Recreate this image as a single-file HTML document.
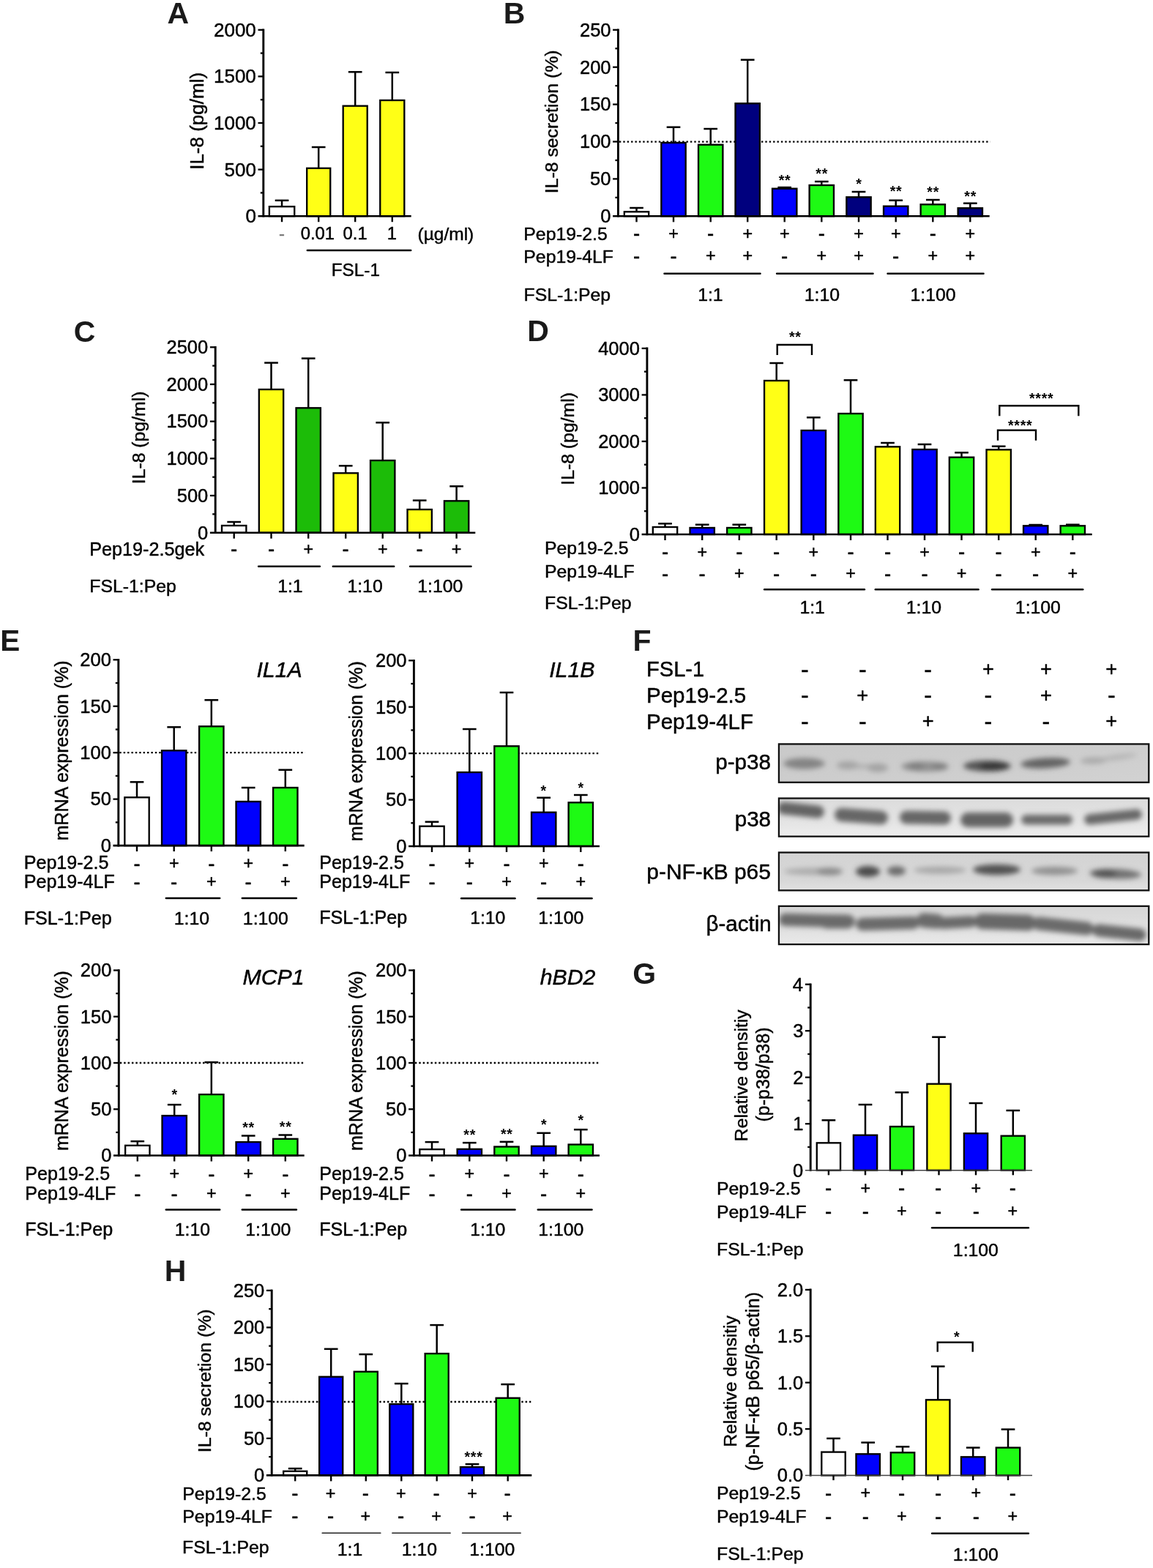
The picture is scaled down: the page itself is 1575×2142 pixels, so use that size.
<!DOCTYPE html>
<html><head><meta charset="utf-8"><title>Figure</title>
<style>html,body{margin:0;padding:0;background:#fff}svg{display:block}text{font-family:"Liberation Sans",sans-serif;stroke:#000;stroke-width:0.45px;stroke-linejoin:round}</style>
</head><body>
<svg width="1575" height="2142" viewBox="0 0 1575 2142">
<rect width="1575" height="2142" fill="#fff"/>
<text x="228.47" y="32.09" font-size="41" font-weight="bold" fill="#1a1a1a" style="stroke:none">A</text>
<line x1="385.05" y1="273.8" x2="385.05" y2="282.2" stroke="#000" stroke-width="2.5" />
<line x1="375.7" y1="273.8" x2="394.4" y2="273.8" stroke="#000" stroke-width="2.5" />
<line x1="435.2" y1="201" x2="435.2" y2="229.8" stroke="#000" stroke-width="2.5" />
<line x1="425.85" y1="201" x2="444.55" y2="201" stroke="#000" stroke-width="2.5" />
<line x1="485.2" y1="98.3" x2="485.2" y2="144.7" stroke="#000" stroke-width="2.5" />
<line x1="475.85" y1="98.3" x2="494.55" y2="98.3" stroke="#000" stroke-width="2.5" />
<line x1="535.8" y1="99" x2="535.8" y2="137" stroke="#000" stroke-width="2.5" />
<line x1="526.45" y1="99" x2="545.15" y2="99" stroke="#000" stroke-width="2.5" />
<rect x="367.88" y="282.2" width="34.35" height="13" fill="#ffffff" stroke="#000" stroke-width="2.35"/>
<rect x="419.18" y="229.8" width="32.05" height="65.4" fill="#ffff16" stroke="#000" stroke-width="2.35"/>
<rect x="468.68" y="144.7" width="33.05" height="150.5" fill="#ffff16" stroke="#000" stroke-width="2.35"/>
<rect x="519.27" y="137" width="33.05" height="158.2" fill="#ffff16" stroke="#000" stroke-width="2.35"/>
<line x1="359.8" y1="39.5" x2="359.8" y2="296.5" stroke="#000" stroke-width="2.9" />
<line x1="352.5" y1="40.8" x2="359.8" y2="40.8" stroke="#000" stroke-width="2.3" />
<text x="291.99" y="49.77" font-size="26" >2000</text>
<line x1="352.5" y1="104.4" x2="359.8" y2="104.4" stroke="#000" stroke-width="2.3" />
<text x="291.99" y="113.37" font-size="26" >1500</text>
<line x1="352.5" y1="168" x2="359.8" y2="168" stroke="#000" stroke-width="2.3" />
<text x="291.99" y="176.97" font-size="26" >1000</text>
<line x1="352.5" y1="231.6" x2="359.8" y2="231.6" stroke="#000" stroke-width="2.3" />
<text x="306.55" y="240.57" font-size="26" >500</text>
<text x="335.41" y="304.17" font-size="26" >0</text>
<line x1="355.8" y1="72.6" x2="359.8" y2="72.6" stroke="#000" stroke-width="2.3" />
<line x1="355.8" y1="136.2" x2="359.8" y2="136.2" stroke="#000" stroke-width="2.3" />
<line x1="355.8" y1="199.8" x2="359.8" y2="199.8" stroke="#000" stroke-width="2.3" />
<line x1="355.8" y1="263.4" x2="359.8" y2="263.4" stroke="#000" stroke-width="2.3" />
<line x1="352.5" y1="295.2" x2="561.7" y2="295.2" stroke="#000" stroke-width="2.6" />
<line x1="385.05" y1="295.2" x2="385.05" y2="303.2" stroke="#000" stroke-width="2.4" />
<line x1="435.2" y1="295.2" x2="435.2" y2="303.2" stroke="#000" stroke-width="2.4" />
<line x1="485.2" y1="295.2" x2="485.2" y2="303.2" stroke="#000" stroke-width="2.4" />
<line x1="535.8" y1="295.2" x2="535.8" y2="303.2" stroke="#000" stroke-width="2.4" />
<text x="381.01" y="327" font-size="23.8" fill="#777" style="stroke:#777" >-</text>
<text x="410.67" y="327" font-size="23.8" >0.01</text>
<text x="468.58" y="327" font-size="23.8" >0.1</text>
<text x="528.8" y="327" font-size="23.8" >1</text>
<text x="570.53" y="328" font-size="24.5" >(µg/ml)</text>
<line x1="419.8" y1="342" x2="561.2" y2="342" stroke="#000" stroke-width="2.5" stroke-linecap="round"/>
<text x="452.79" y="377" font-size="24.3" >FSL-1</text>
<text x="278.19" y="231.82" font-size="26" transform="rotate(-90 278.19 231.82)" >IL-8 (pg/ml)</text>
<text x="687.84" y="32.09" font-size="41" font-weight="bold" fill="#1a1a1a" style="stroke:none">B</text>
<line x1="845.9" y1="193.7" x2="1352.7" y2="193.7" stroke="#000" stroke-width="2.3" stroke-dasharray="2.4 2.99"/>
<line x1="869.5" y1="284" x2="869.5" y2="289.3" stroke="#000" stroke-width="2.5" />
<line x1="860.15" y1="284" x2="878.85" y2="284" stroke="#000" stroke-width="2.5" />
<line x1="920" y1="173.7" x2="920" y2="195" stroke="#000" stroke-width="2.5" />
<line x1="910.65" y1="173.7" x2="929.35" y2="173.7" stroke="#000" stroke-width="2.5" />
<line x1="970.7" y1="176" x2="970.7" y2="197.7" stroke="#000" stroke-width="2.5" />
<line x1="961.35" y1="176" x2="980.05" y2="176" stroke="#000" stroke-width="2.5" />
<line x1="1021.2" y1="81.7" x2="1021.2" y2="141.3" stroke="#000" stroke-width="2.5" />
<line x1="1011.85" y1="81.7" x2="1030.55" y2="81.7" stroke="#000" stroke-width="2.5" />
<line x1="1071.7" y1="256" x2="1071.7" y2="257.7" stroke="#000" stroke-width="2.5" />
<line x1="1062.35" y1="256" x2="1081.05" y2="256" stroke="#000" stroke-width="2.5" />
<line x1="1122.3" y1="248" x2="1122.3" y2="253" stroke="#000" stroke-width="2.5" />
<line x1="1112.95" y1="248" x2="1131.65" y2="248" stroke="#000" stroke-width="2.5" />
<line x1="1173" y1="262" x2="1173" y2="269.3" stroke="#000" stroke-width="2.5" />
<line x1="1163.65" y1="262" x2="1182.35" y2="262" stroke="#000" stroke-width="2.5" />
<line x1="1223.7" y1="273.7" x2="1223.7" y2="281.7" stroke="#000" stroke-width="2.5" />
<line x1="1214.35" y1="273.7" x2="1233.05" y2="273.7" stroke="#000" stroke-width="2.5" />
<line x1="1274.3" y1="273" x2="1274.3" y2="279.3" stroke="#000" stroke-width="2.5" />
<line x1="1264.95" y1="273" x2="1283.65" y2="273" stroke="#000" stroke-width="2.5" />
<line x1="1325.3" y1="277.7" x2="1325.3" y2="284.3" stroke="#000" stroke-width="2.5" />
<line x1="1315.95" y1="277.7" x2="1334.65" y2="277.7" stroke="#000" stroke-width="2.5" />
<rect x="852.82" y="289.3" width="33.35" height="6" fill="#ffffff" stroke="#000" stroke-width="2.35"/>
<rect x="903.32" y="195" width="33.35" height="100.3" fill="#0000fe" stroke="#000" stroke-width="2.35"/>
<rect x="954.02" y="197.7" width="33.35" height="97.6" fill="#1efa14" stroke="#000" stroke-width="2.35"/>
<rect x="1004.52" y="141.3" width="33.35" height="154" fill="#00007e" stroke="#000" stroke-width="2.35"/>
<rect x="1055.03" y="257.7" width="33.35" height="37.6" fill="#0000fe" stroke="#000" stroke-width="2.35"/>
<rect x="1105.62" y="253" width="33.35" height="42.3" fill="#1efa14" stroke="#000" stroke-width="2.35"/>
<rect x="1156.33" y="269.3" width="33.35" height="26" fill="#00007e" stroke="#000" stroke-width="2.35"/>
<rect x="1207.03" y="281.7" width="33.35" height="13.6" fill="#0000fe" stroke="#000" stroke-width="2.35"/>
<rect x="1257.62" y="279.3" width="33.35" height="16" fill="#1efa14" stroke="#000" stroke-width="2.35"/>
<rect x="1308.62" y="284.3" width="33.35" height="11" fill="#00007e" stroke="#000" stroke-width="2.35"/>
<line x1="844.4" y1="39.5" x2="844.4" y2="296.6" stroke="#000" stroke-width="2.9" />
<line x1="837.1" y1="40.8" x2="844.4" y2="40.8" stroke="#000" stroke-width="2.3" />
<text x="791.96" y="49.6" font-size="25.5" >250</text>
<line x1="837.1" y1="91.7" x2="844.4" y2="91.7" stroke="#000" stroke-width="2.3" />
<text x="791.96" y="100.5" font-size="25.5" >200</text>
<line x1="837.1" y1="142.6" x2="844.4" y2="142.6" stroke="#000" stroke-width="2.3" />
<text x="791.96" y="151.4" font-size="25.5" >150</text>
<line x1="837.1" y1="193.5" x2="844.4" y2="193.5" stroke="#000" stroke-width="2.3" />
<text x="791.96" y="202.3" font-size="25.5" >100</text>
<line x1="837.1" y1="244.4" x2="844.4" y2="244.4" stroke="#000" stroke-width="2.3" />
<text x="806.12" y="253.2" font-size="25.5" >50</text>
<text x="820.27" y="304.1" font-size="25.5" >0</text>
<line x1="840.4" y1="66.25" x2="844.4" y2="66.25" stroke="#000" stroke-width="2.3" />
<line x1="840.4" y1="117.15" x2="844.4" y2="117.15" stroke="#000" stroke-width="2.3" />
<line x1="840.4" y1="168.05" x2="844.4" y2="168.05" stroke="#000" stroke-width="2.3" />
<line x1="840.4" y1="218.95" x2="844.4" y2="218.95" stroke="#000" stroke-width="2.3" />
<line x1="840.4" y1="269.85" x2="844.4" y2="269.85" stroke="#000" stroke-width="2.3" />
<line x1="837.1" y1="295.3" x2="1351.7" y2="295.3" stroke="#000" stroke-width="2.6" />
<line x1="869.5" y1="295.3" x2="869.5" y2="303.3" stroke="#000" stroke-width="2.4" />
<line x1="920" y1="295.3" x2="920" y2="303.3" stroke="#000" stroke-width="2.4" />
<line x1="970.7" y1="295.3" x2="970.7" y2="303.3" stroke="#000" stroke-width="2.4" />
<line x1="1021.2" y1="295.3" x2="1021.2" y2="303.3" stroke="#000" stroke-width="2.4" />
<line x1="1071.7" y1="295.3" x2="1071.7" y2="303.3" stroke="#000" stroke-width="2.4" />
<line x1="1122.3" y1="295.3" x2="1122.3" y2="303.3" stroke="#000" stroke-width="2.4" />
<line x1="1173" y1="295.3" x2="1173" y2="303.3" stroke="#000" stroke-width="2.4" />
<line x1="1223.7" y1="295.3" x2="1223.7" y2="303.3" stroke="#000" stroke-width="2.4" />
<line x1="1274.3" y1="295.3" x2="1274.3" y2="303.3" stroke="#000" stroke-width="2.4" />
<line x1="1325.3" y1="295.3" x2="1325.3" y2="303.3" stroke="#000" stroke-width="2.4" />
<text x="1063.68" y="252.6" font-size="19.6" font-weight="bold" style="stroke:none" letter-spacing="0.75">**</text>
<text x="1114.28" y="243.9" font-size="19.6" font-weight="bold" style="stroke:none" letter-spacing="0.75">**</text>
<text x="1169.18" y="257.6" font-size="19.6" font-weight="bold" style="stroke:none" letter-spacing="0.75">*</text>
<text x="1215.68" y="267.6" font-size="19.6" font-weight="bold" style="stroke:none" letter-spacing="0.75">**</text>
<text x="1266.28" y="269.2" font-size="19.6" font-weight="bold" style="stroke:none" letter-spacing="0.75">**</text>
<text x="1317.28" y="274.9" font-size="19.6" font-weight="bold" style="stroke:none" letter-spacing="0.75">**</text>
<text x="715.32" y="327.6" font-size="24.8" >Pep19-2.5</text>
<text x="715.32" y="358.6" font-size="24.8" >Pep19-4LF</text>
<text x="715.62" y="410.7" font-size="24.8" >FSL-1:Pep</text>
<text x="864.89" y="328" font-size="27.5" >-</text>
<text x="913.18" y="327" font-size="23.3" >+</text>
<text x="966.09" y="328" font-size="27.5" >-</text>
<text x="1014.38" y="327" font-size="23.3" >+</text>
<text x="1064.88" y="327" font-size="23.3" >+</text>
<text x="1117.69" y="328" font-size="27.5" >-</text>
<text x="1166.18" y="327" font-size="23.3" >+</text>
<text x="1216.88" y="327" font-size="23.3" >+</text>
<text x="1269.69" y="328" font-size="27.5" >-</text>
<text x="1318.48" y="327" font-size="23.3" >+</text>
<text x="864.89" y="359" font-size="27.5" >-</text>
<text x="915.39" y="359" font-size="27.5" >-</text>
<text x="963.88" y="357" font-size="23.3" >+</text>
<text x="1014.38" y="357" font-size="23.3" >+</text>
<text x="1067.09" y="359" font-size="27.5" >-</text>
<text x="1115.48" y="357" font-size="23.3" >+</text>
<text x="1166.18" y="357" font-size="23.3" >+</text>
<text x="1219.09" y="359" font-size="27.5" >-</text>
<text x="1267.48" y="357" font-size="23.3" >+</text>
<text x="1318.48" y="357" font-size="23.3" >+</text>
<line x1="907.5" y1="373.7" x2="1038.5" y2="373.7" stroke="#000" stroke-width="2.5" stroke-linecap="round"/>
<line x1="1061.1" y1="373.7" x2="1192.5" y2="373.7" stroke="#000" stroke-width="2.5" stroke-linecap="round"/>
<line x1="1212.5" y1="373.7" x2="1343.5" y2="373.7" stroke="#000" stroke-width="2.5" stroke-linecap="round"/>
<text x="953.15" y="411" font-size="24.8" >1:1</text>
<text x="1098.75" y="411" font-size="24.8" >1:10</text>
<text x="1243.57" y="411" font-size="24.8" >1:100</text>
<text x="761.89" y="264.21" font-size="24.8" transform="rotate(-90 761.89 264.21)" >IL-8 secretion (%)</text>
<text x="100.86" y="466.6" font-size="41" font-weight="bold" fill="#1a1a1a" style="stroke:none">C</text>
<line x1="319.7" y1="713" x2="319.7" y2="718" stroke="#000" stroke-width="2.5" />
<line x1="310.35" y1="713" x2="329.05" y2="713" stroke="#000" stroke-width="2.5" />
<line x1="370.5" y1="495.6" x2="370.5" y2="532" stroke="#000" stroke-width="2.5" />
<line x1="361.15" y1="495.6" x2="379.85" y2="495.6" stroke="#000" stroke-width="2.5" />
<line x1="421.2" y1="489.6" x2="421.2" y2="557.3" stroke="#000" stroke-width="2.5" />
<line x1="411.85" y1="489.6" x2="430.55" y2="489.6" stroke="#000" stroke-width="2.5" />
<line x1="472.2" y1="636.3" x2="472.2" y2="646.3" stroke="#000" stroke-width="2.5" />
<line x1="462.85" y1="636.3" x2="481.55" y2="636.3" stroke="#000" stroke-width="2.5" />
<line x1="522.7" y1="577.3" x2="522.7" y2="629" stroke="#000" stroke-width="2.5" />
<line x1="513.35" y1="577.3" x2="532.05" y2="577.3" stroke="#000" stroke-width="2.5" />
<line x1="573.2" y1="683.6" x2="573.2" y2="696" stroke="#000" stroke-width="2.5" />
<line x1="563.85" y1="683.6" x2="582.55" y2="683.6" stroke="#000" stroke-width="2.5" />
<line x1="623.6" y1="664.3" x2="623.6" y2="684.3" stroke="#000" stroke-width="2.5" />
<line x1="614.25" y1="664.3" x2="632.95" y2="664.3" stroke="#000" stroke-width="2.5" />
<rect x="303.02" y="718" width="33.35" height="9.7" fill="#ffffff" stroke="#000" stroke-width="2.35"/>
<rect x="353.82" y="532" width="33.35" height="195.7" fill="#ffff16" stroke="#000" stroke-width="2.35"/>
<rect x="404.52" y="557.3" width="33.35" height="170.4" fill="#1cbc08" stroke="#000" stroke-width="2.35"/>
<rect x="455.52" y="646.3" width="33.35" height="81.4" fill="#ffff16" stroke="#000" stroke-width="2.35"/>
<rect x="506.03" y="629" width="33.35" height="98.7" fill="#1cbc08" stroke="#000" stroke-width="2.35"/>
<rect x="556.52" y="696" width="33.35" height="31.7" fill="#ffff16" stroke="#000" stroke-width="2.35"/>
<rect x="606.92" y="684.3" width="33.35" height="43.4" fill="#1cbc08" stroke="#000" stroke-width="2.35"/>
<line x1="294.2" y1="473" x2="294.2" y2="729" stroke="#000" stroke-width="2.9" />
<line x1="286.9" y1="474.3" x2="294.2" y2="474.3" stroke="#000" stroke-width="2.3" />
<text x="227.48" y="483.1" font-size="25.5" >2500</text>
<line x1="286.9" y1="524.98" x2="294.2" y2="524.98" stroke="#000" stroke-width="2.3" />
<text x="227.48" y="533.78" font-size="25.5" >2000</text>
<line x1="286.9" y1="575.66" x2="294.2" y2="575.66" stroke="#000" stroke-width="2.3" />
<text x="227.48" y="584.46" font-size="25.5" >1500</text>
<line x1="286.9" y1="626.34" x2="294.2" y2="626.34" stroke="#000" stroke-width="2.3" />
<text x="227.48" y="635.14" font-size="25.5" >1000</text>
<line x1="286.9" y1="677.02" x2="294.2" y2="677.02" stroke="#000" stroke-width="2.3" />
<text x="241.76" y="685.82" font-size="25.5" >500</text>
<text x="270.07" y="736.5" font-size="25.5" >0</text>
<line x1="290.2" y1="499.64" x2="294.2" y2="499.64" stroke="#000" stroke-width="2.3" />
<line x1="290.2" y1="550.32" x2="294.2" y2="550.32" stroke="#000" stroke-width="2.3" />
<line x1="290.2" y1="601" x2="294.2" y2="601" stroke="#000" stroke-width="2.3" />
<line x1="290.2" y1="651.68" x2="294.2" y2="651.68" stroke="#000" stroke-width="2.3" />
<line x1="290.2" y1="702.36" x2="294.2" y2="702.36" stroke="#000" stroke-width="2.3" />
<line x1="286.9" y1="727.7" x2="649.3" y2="727.7" stroke="#000" stroke-width="2.6" />
<line x1="319.7" y1="727.7" x2="319.7" y2="735.7" stroke="#000" stroke-width="2.4" />
<line x1="370.5" y1="727.7" x2="370.5" y2="735.7" stroke="#000" stroke-width="2.4" />
<line x1="421.2" y1="727.7" x2="421.2" y2="735.7" stroke="#000" stroke-width="2.4" />
<line x1="472.2" y1="727.7" x2="472.2" y2="735.7" stroke="#000" stroke-width="2.4" />
<line x1="522.7" y1="727.7" x2="522.7" y2="735.7" stroke="#000" stroke-width="2.4" />
<line x1="573.2" y1="727.7" x2="573.2" y2="735.7" stroke="#000" stroke-width="2.4" />
<line x1="623.6" y1="727.7" x2="623.6" y2="735.7" stroke="#000" stroke-width="2.4" />
<text x="122.28" y="759" font-size="25.2" >Pep19-2.5gek</text>
<text x="122.32" y="809.3" font-size="24.8" >FSL-1:Pep</text>
<text x="315.09" y="759" font-size="27.5" >-</text>
<text x="365.89" y="759" font-size="27.5" >-</text>
<text x="414.38" y="758" font-size="23.3" >+</text>
<text x="467.59" y="759" font-size="27.5" >-</text>
<text x="515.88" y="758" font-size="23.3" >+</text>
<text x="568.59" y="759" font-size="27.5" >-</text>
<text x="616.78" y="758" font-size="23.3" >+</text>
<line x1="353.1" y1="773.7" x2="436.9" y2="773.7" stroke="#000" stroke-width="2.5" stroke-linecap="round"/>
<line x1="454.8" y1="773.7" x2="538.2" y2="773.7" stroke="#000" stroke-width="2.5" stroke-linecap="round"/>
<line x1="560.1" y1="773.7" x2="643.5" y2="773.7" stroke="#000" stroke-width="2.5" stroke-linecap="round"/>
<text x="379.15" y="809.3" font-size="24.8" >1:1</text>
<text x="474.45" y="809.3" font-size="24.8" >1:10</text>
<text x="570.27" y="809.3" font-size="24.8" >1:100</text>
<text x="197.89" y="661.24" font-size="24.8" transform="rotate(-90 197.89 661.24)" >IL-8 (pg/ml)</text>
<text x="720.24" y="465.89" font-size="41" font-weight="bold" fill="#1a1a1a" style="stroke:none">D</text>
<line x1="908.5" y1="715.3" x2="908.5" y2="720" stroke="#000" stroke-width="2.5" />
<line x1="899.15" y1="715.3" x2="917.85" y2="715.3" stroke="#000" stroke-width="2.5" />
<line x1="959.2" y1="716.7" x2="959.2" y2="721" stroke="#000" stroke-width="2.5" />
<line x1="949.85" y1="716.7" x2="968.55" y2="716.7" stroke="#000" stroke-width="2.5" />
<line x1="1009.8" y1="716.7" x2="1009.8" y2="721" stroke="#000" stroke-width="2.5" />
<line x1="1000.45" y1="716.7" x2="1019.15" y2="716.7" stroke="#000" stroke-width="2.5" />
<line x1="1060.7" y1="496" x2="1060.7" y2="520" stroke="#000" stroke-width="2.5" />
<line x1="1051.35" y1="496" x2="1070.05" y2="496" stroke="#000" stroke-width="2.5" />
<line x1="1111.3" y1="570.3" x2="1111.3" y2="588" stroke="#000" stroke-width="2.5" />
<line x1="1101.95" y1="570.3" x2="1120.65" y2="570.3" stroke="#000" stroke-width="2.5" />
<line x1="1162" y1="519.3" x2="1162" y2="565" stroke="#000" stroke-width="2.5" />
<line x1="1152.65" y1="519.3" x2="1171.35" y2="519.3" stroke="#000" stroke-width="2.5" />
<line x1="1212.5" y1="605" x2="1212.5" y2="610.3" stroke="#000" stroke-width="2.5" />
<line x1="1203.15" y1="605" x2="1221.85" y2="605" stroke="#000" stroke-width="2.5" />
<line x1="1263" y1="607" x2="1263" y2="614" stroke="#000" stroke-width="2.5" />
<line x1="1253.65" y1="607" x2="1272.35" y2="607" stroke="#000" stroke-width="2.5" />
<line x1="1313.5" y1="618.3" x2="1313.5" y2="624.7" stroke="#000" stroke-width="2.5" />
<line x1="1304.15" y1="618.3" x2="1322.85" y2="618.3" stroke="#000" stroke-width="2.5" />
<line x1="1364.2" y1="609.7" x2="1364.2" y2="614.3" stroke="#000" stroke-width="2.5" />
<line x1="1354.85" y1="609.7" x2="1373.55" y2="609.7" stroke="#000" stroke-width="2.5" />
<line x1="1414.7" y1="717" x2="1414.7" y2="718.3" stroke="#000" stroke-width="2.5" />
<line x1="1405.35" y1="717" x2="1424.05" y2="717" stroke="#000" stroke-width="2.5" />
<line x1="1465.3" y1="716.7" x2="1465.3" y2="718.3" stroke="#000" stroke-width="2.5" />
<line x1="1455.95" y1="716.7" x2="1474.65" y2="716.7" stroke="#000" stroke-width="2.5" />
<rect x="891.82" y="720" width="33.35" height="10" fill="#ffffff" stroke="#000" stroke-width="2.35"/>
<rect x="942.52" y="721" width="33.35" height="9" fill="#0000fe" stroke="#000" stroke-width="2.35"/>
<rect x="993.12" y="721" width="33.35" height="9" fill="#1efa14" stroke="#000" stroke-width="2.35"/>
<rect x="1044.03" y="520" width="33.35" height="210" fill="#ffff16" stroke="#000" stroke-width="2.35"/>
<rect x="1094.62" y="588" width="33.35" height="142" fill="#0000fe" stroke="#000" stroke-width="2.35"/>
<rect x="1145.33" y="565" width="33.35" height="165" fill="#1efa14" stroke="#000" stroke-width="2.35"/>
<rect x="1195.83" y="610.3" width="33.35" height="119.7" fill="#ffff16" stroke="#000" stroke-width="2.35"/>
<rect x="1246.33" y="614" width="33.35" height="116" fill="#0000fe" stroke="#000" stroke-width="2.35"/>
<rect x="1296.83" y="624.7" width="33.35" height="105.3" fill="#1efa14" stroke="#000" stroke-width="2.35"/>
<rect x="1347.53" y="614.3" width="33.35" height="115.7" fill="#ffff16" stroke="#000" stroke-width="2.35"/>
<rect x="1398.03" y="718.3" width="33.35" height="11.7" fill="#0000fe" stroke="#000" stroke-width="2.35"/>
<rect x="1448.62" y="718.3" width="33.35" height="11.7" fill="#1efa14" stroke="#000" stroke-width="2.35"/>
<line x1="883.9" y1="474.6" x2="883.9" y2="731.3" stroke="#000" stroke-width="2.9" />
<line x1="876.6" y1="475.9" x2="883.9" y2="475.9" stroke="#000" stroke-width="2.3" />
<text x="817.18" y="484.7" font-size="25.5" >4000</text>
<line x1="876.6" y1="539.42" x2="883.9" y2="539.42" stroke="#000" stroke-width="2.3" />
<text x="817.18" y="548.22" font-size="25.5" >3000</text>
<line x1="876.6" y1="602.95" x2="883.9" y2="602.95" stroke="#000" stroke-width="2.3" />
<text x="817.18" y="611.75" font-size="25.5" >2000</text>
<line x1="876.6" y1="666.48" x2="883.9" y2="666.48" stroke="#000" stroke-width="2.3" />
<text x="817.18" y="675.27" font-size="25.5" >1000</text>
<text x="859.77" y="738.8" font-size="25.5" >0</text>
<line x1="879.9" y1="507.66" x2="883.9" y2="507.66" stroke="#000" stroke-width="2.3" />
<line x1="879.9" y1="571.19" x2="883.9" y2="571.19" stroke="#000" stroke-width="2.3" />
<line x1="879.9" y1="634.71" x2="883.9" y2="634.71" stroke="#000" stroke-width="2.3" />
<line x1="879.9" y1="698.24" x2="883.9" y2="698.24" stroke="#000" stroke-width="2.3" />
<line x1="876.6" y1="730" x2="1491.7" y2="730" stroke="#000" stroke-width="2.6" />
<line x1="908.5" y1="730" x2="908.5" y2="738" stroke="#000" stroke-width="2.4" />
<line x1="959.2" y1="730" x2="959.2" y2="738" stroke="#000" stroke-width="2.4" />
<line x1="1009.8" y1="730" x2="1009.8" y2="738" stroke="#000" stroke-width="2.4" />
<line x1="1060.7" y1="730" x2="1060.7" y2="738" stroke="#000" stroke-width="2.4" />
<line x1="1111.3" y1="730" x2="1111.3" y2="738" stroke="#000" stroke-width="2.4" />
<line x1="1162" y1="730" x2="1162" y2="738" stroke="#000" stroke-width="2.4" />
<line x1="1212.5" y1="730" x2="1212.5" y2="738" stroke="#000" stroke-width="2.4" />
<line x1="1263" y1="730" x2="1263" y2="738" stroke="#000" stroke-width="2.4" />
<line x1="1313.5" y1="730" x2="1313.5" y2="738" stroke="#000" stroke-width="2.4" />
<line x1="1364.2" y1="730" x2="1364.2" y2="738" stroke="#000" stroke-width="2.4" />
<line x1="1414.7" y1="730" x2="1414.7" y2="738" stroke="#000" stroke-width="2.4" />
<line x1="1465.3" y1="730" x2="1465.3" y2="738" stroke="#000" stroke-width="2.4" />
<path d="M1061.7 485V471H1109V485" fill="none" stroke="#000" stroke-width="2.4"/>
<text x="1077.98" y="466.6" font-size="19.6" font-weight="bold" style="stroke:none" letter-spacing="0.75">**</text>
<path d="M1365.3 568.3V554.3H1473.3V568.3" fill="none" stroke="#000" stroke-width="2.4"/>
<text x="1405.94" y="550.6" font-size="19.6" font-weight="bold" style="stroke:none" letter-spacing="0.75">****</text>
<path d="M1363 601.7V587.7H1415V601.7" fill="none" stroke="#000" stroke-width="2.4"/>
<text x="1376.94" y="588.2" font-size="19.6" font-weight="bold" style="stroke:none" letter-spacing="0.75">****</text>
<text x="744.02" y="757" font-size="24.8" >Pep19-2.5</text>
<text x="744.02" y="789" font-size="24.8" >Pep19-4LF</text>
<text x="744.02" y="832" font-size="24.8" >FSL-1:Pep</text>
<text x="903.89" y="763" font-size="27.5" >-</text>
<text x="952.38" y="762" font-size="23.3" >+</text>
<text x="1005.19" y="763" font-size="27.5" >-</text>
<text x="1056.09" y="763" font-size="27.5" >-</text>
<text x="1104.48" y="762" font-size="23.3" >+</text>
<text x="1157.39" y="763" font-size="27.5" >-</text>
<text x="1207.89" y="763" font-size="27.5" >-</text>
<text x="1256.18" y="762" font-size="23.3" >+</text>
<text x="1308.89" y="763" font-size="27.5" >-</text>
<text x="1359.59" y="763" font-size="27.5" >-</text>
<text x="1407.88" y="762" font-size="23.3" >+</text>
<text x="1460.69" y="763" font-size="27.5" >-</text>
<text x="903.89" y="793" font-size="27.5" >-</text>
<text x="954.59" y="793" font-size="27.5" >-</text>
<text x="1002.98" y="791" font-size="23.3" >+</text>
<text x="1056.09" y="793" font-size="27.5" >-</text>
<text x="1106.69" y="793" font-size="27.5" >-</text>
<text x="1155.18" y="791" font-size="23.3" >+</text>
<text x="1207.89" y="793" font-size="27.5" >-</text>
<text x="1258.39" y="793" font-size="27.5" >-</text>
<text x="1306.68" y="791" font-size="23.3" >+</text>
<text x="1359.59" y="793" font-size="27.5" >-</text>
<text x="1410.09" y="793" font-size="27.5" >-</text>
<text x="1458.48" y="791" font-size="23.3" >+</text>
<line x1="1044.1" y1="805.3" x2="1180.9" y2="805.3" stroke="#000" stroke-width="2.5" stroke-linecap="round"/>
<line x1="1195.8" y1="805.3" x2="1336.5" y2="805.3" stroke="#000" stroke-width="2.5" stroke-linecap="round"/>
<line x1="1355.1" y1="805.3" x2="1479.2" y2="805.3" stroke="#000" stroke-width="2.5" stroke-linecap="round"/>
<text x="1092.45" y="837.7" font-size="24.8" >1:1</text>
<text x="1237.75" y="837.7" font-size="24.8" >1:10</text>
<text x="1386.87" y="837.7" font-size="24.8" >1:100</text>
<text x="783.89" y="662.74" font-size="24.8" transform="rotate(-90 783.89 662.74)" >IL-8 (pg/ml)</text>
<text x="0.37" y="889.15" font-size="40.5" font-weight="bold" fill="#1a1a1a" style="stroke:none">E</text>
<line x1="163.3" y1="1028.2" x2="416.7" y2="1028.2" stroke="#000" stroke-width="2.3" stroke-dasharray="2.4 2.99"/>
<line x1="187" y1="1068.3" x2="187" y2="1089.3" stroke="#000" stroke-width="2.5" />
<line x1="177.65" y1="1068.3" x2="196.35" y2="1068.3" stroke="#000" stroke-width="2.5" />
<line x1="237.7" y1="993.3" x2="237.7" y2="1025.3" stroke="#000" stroke-width="2.5" />
<line x1="228.35" y1="993.3" x2="247.05" y2="993.3" stroke="#000" stroke-width="2.5" />
<line x1="288.8" y1="956.3" x2="288.8" y2="992.3" stroke="#000" stroke-width="2.5" />
<line x1="279.45" y1="956.3" x2="298.15" y2="956.3" stroke="#000" stroke-width="2.5" />
<line x1="339.2" y1="1076" x2="339.2" y2="1095" stroke="#000" stroke-width="2.5" />
<line x1="329.85" y1="1076" x2="348.55" y2="1076" stroke="#000" stroke-width="2.5" />
<line x1="389.8" y1="1051.7" x2="389.8" y2="1076" stroke="#000" stroke-width="2.5" />
<line x1="380.45" y1="1051.7" x2="399.15" y2="1051.7" stroke="#000" stroke-width="2.5" />
<rect x="170.33" y="1089.3" width="33.35" height="65.8" fill="#ffffff" stroke="#000" stroke-width="2.35"/>
<rect x="221.03" y="1025.3" width="33.35" height="129.8" fill="#0000fe" stroke="#000" stroke-width="2.35"/>
<rect x="272.12" y="992.3" width="33.35" height="162.8" fill="#1efa14" stroke="#000" stroke-width="2.35"/>
<rect x="322.52" y="1095" width="33.35" height="60.1" fill="#0000fe" stroke="#000" stroke-width="2.35"/>
<rect x="373.12" y="1076" width="33.35" height="79.1" fill="#1efa14" stroke="#000" stroke-width="2.35"/>
<line x1="161.8" y1="900" x2="161.8" y2="1156.4" stroke="#000" stroke-width="2.9" />
<line x1="154.5" y1="901.3" x2="161.8" y2="901.3" stroke="#000" stroke-width="2.3" />
<text x="109.36" y="910.1" font-size="25.5" >200</text>
<line x1="154.5" y1="964.75" x2="161.8" y2="964.75" stroke="#000" stroke-width="2.3" />
<text x="109.36" y="973.55" font-size="25.5" >150</text>
<line x1="154.5" y1="1028.2" x2="161.8" y2="1028.2" stroke="#000" stroke-width="2.3" />
<text x="109.36" y="1037" font-size="25.5" >100</text>
<line x1="154.5" y1="1091.65" x2="161.8" y2="1091.65" stroke="#000" stroke-width="2.3" />
<text x="123.52" y="1100.45" font-size="25.5" >50</text>
<text x="137.67" y="1163.9" font-size="25.5" >0</text>
<line x1="157.8" y1="933.02" x2="161.8" y2="933.02" stroke="#000" stroke-width="2.3" />
<line x1="157.8" y1="996.47" x2="161.8" y2="996.47" stroke="#000" stroke-width="2.3" />
<line x1="157.8" y1="1059.92" x2="161.8" y2="1059.92" stroke="#000" stroke-width="2.3" />
<line x1="157.8" y1="1123.38" x2="161.8" y2="1123.38" stroke="#000" stroke-width="2.3" />
<line x1="154.5" y1="1155.1" x2="415.7" y2="1155.1" stroke="#000" stroke-width="2.6" />
<line x1="187" y1="1155.1" x2="187" y2="1163.1" stroke="#000" stroke-width="2.4" />
<line x1="237.7" y1="1155.1" x2="237.7" y2="1163.1" stroke="#000" stroke-width="2.4" />
<line x1="288.8" y1="1155.1" x2="288.8" y2="1163.1" stroke="#000" stroke-width="2.4" />
<line x1="339.2" y1="1155.1" x2="339.2" y2="1163.1" stroke="#000" stroke-width="2.4" />
<line x1="389.8" y1="1155.1" x2="389.8" y2="1163.1" stroke="#000" stroke-width="2.4" />
<text x="350.45" y="925" font-size="30.3" font-style="italic" >IL1A</text>
<text x="32.69" y="1187" font-size="25.1" >Pep19-2.5</text>
<text x="32.69" y="1213" font-size="25.1" >Pep19-4LF</text>
<text x="32.69" y="1263" font-size="25.1" >FSL-1:Pep</text>
<text x="182.39" y="1189" font-size="27.5" >-</text>
<text x="230.88" y="1187" font-size="23.3" >+</text>
<text x="284.19" y="1189" font-size="27.5" >-</text>
<text x="332.38" y="1187" font-size="23.3" >+</text>
<text x="385.19" y="1189" font-size="27.5" >-</text>
<text x="182.39" y="1214" font-size="27.5" >-</text>
<text x="233.09" y="1214" font-size="27.5" >-</text>
<text x="281.98" y="1212" font-size="23.3" >+</text>
<text x="334.59" y="1214" font-size="27.5" >-</text>
<text x="382.98" y="1212" font-size="23.3" >+</text>
<line x1="226.8" y1="1227" x2="300.2" y2="1227" stroke="#000" stroke-width="2.5" stroke-linecap="round"/>
<line x1="330.8" y1="1227" x2="404.9" y2="1227" stroke="#000" stroke-width="2.5" stroke-linecap="round"/>
<text x="237.75" y="1263" font-size="24.8" >1:10</text>
<text x="331.87" y="1263" font-size="24.8" >1:100</text>
<text x="93.24" y="1148.2" font-size="25" transform="rotate(-90 93.24 1148.2)" >mRNA expression (%)</text>
<line x1="566.9" y1="1029.15" x2="820" y2="1029.15" stroke="#000" stroke-width="2.3" stroke-dasharray="2.4 2.99"/>
<line x1="590" y1="1122.7" x2="590" y2="1128.7" stroke="#000" stroke-width="2.5" />
<line x1="580.65" y1="1122.7" x2="599.35" y2="1122.7" stroke="#000" stroke-width="2.5" />
<line x1="641.3" y1="996" x2="641.3" y2="1055" stroke="#000" stroke-width="2.5" />
<line x1="631.95" y1="996" x2="650.65" y2="996" stroke="#000" stroke-width="2.5" />
<line x1="692" y1="946" x2="692" y2="1019.3" stroke="#000" stroke-width="2.5" />
<line x1="682.65" y1="946" x2="701.35" y2="946" stroke="#000" stroke-width="2.5" />
<line x1="742.7" y1="1089.7" x2="742.7" y2="1109.7" stroke="#000" stroke-width="2.5" />
<line x1="733.35" y1="1089.7" x2="752.05" y2="1089.7" stroke="#000" stroke-width="2.5" />
<line x1="793.3" y1="1086" x2="793.3" y2="1096.3" stroke="#000" stroke-width="2.5" />
<line x1="783.95" y1="1086" x2="802.65" y2="1086" stroke="#000" stroke-width="2.5" />
<rect x="573.32" y="1128.7" width="33.35" height="27.3" fill="#ffffff" stroke="#000" stroke-width="2.35"/>
<rect x="624.62" y="1055" width="33.35" height="101" fill="#0000fe" stroke="#000" stroke-width="2.35"/>
<rect x="675.32" y="1019.3" width="33.35" height="136.7" fill="#1efa14" stroke="#000" stroke-width="2.35"/>
<rect x="726.02" y="1109.7" width="33.35" height="46.3" fill="#0000fe" stroke="#000" stroke-width="2.35"/>
<rect x="776.62" y="1096.3" width="33.35" height="59.7" fill="#1efa14" stroke="#000" stroke-width="2.35"/>
<line x1="565.4" y1="901" x2="565.4" y2="1157.3" stroke="#000" stroke-width="2.9" />
<line x1="558.1" y1="902.3" x2="565.4" y2="902.3" stroke="#000" stroke-width="2.3" />
<text x="512.96" y="911.1" font-size="25.5" >200</text>
<line x1="558.1" y1="965.72" x2="565.4" y2="965.72" stroke="#000" stroke-width="2.3" />
<text x="512.96" y="974.52" font-size="25.5" >150</text>
<line x1="558.1" y1="1029.15" x2="565.4" y2="1029.15" stroke="#000" stroke-width="2.3" />
<text x="512.96" y="1037.95" font-size="25.5" >100</text>
<line x1="558.1" y1="1092.58" x2="565.4" y2="1092.58" stroke="#000" stroke-width="2.3" />
<text x="527.12" y="1101.37" font-size="25.5" >50</text>
<text x="541.27" y="1164.8" font-size="25.5" >0</text>
<line x1="561.4" y1="934.01" x2="565.4" y2="934.01" stroke="#000" stroke-width="2.3" />
<line x1="561.4" y1="997.44" x2="565.4" y2="997.44" stroke="#000" stroke-width="2.3" />
<line x1="561.4" y1="1060.86" x2="565.4" y2="1060.86" stroke="#000" stroke-width="2.3" />
<line x1="561.4" y1="1124.29" x2="565.4" y2="1124.29" stroke="#000" stroke-width="2.3" />
<line x1="558.1" y1="1156" x2="819" y2="1156" stroke="#000" stroke-width="2.6" />
<line x1="590" y1="1156" x2="590" y2="1164" stroke="#000" stroke-width="2.4" />
<line x1="641.3" y1="1156" x2="641.3" y2="1164" stroke="#000" stroke-width="2.4" />
<line x1="692" y1="1156" x2="692" y2="1164" stroke="#000" stroke-width="2.4" />
<line x1="742.7" y1="1156" x2="742.7" y2="1164" stroke="#000" stroke-width="2.4" />
<line x1="793.3" y1="1156" x2="793.3" y2="1164" stroke="#000" stroke-width="2.4" />
<text x="750.14" y="925" font-size="30.3" font-style="italic" >IL1B</text>
<text x="738.48" y="1086.6" font-size="19.6" font-weight="bold" style="stroke:none" letter-spacing="0.75">*</text>
<text x="789.48" y="1082.6" font-size="19.6" font-weight="bold" style="stroke:none" letter-spacing="0.75">*</text>
<text x="436.19" y="1187" font-size="25.1" >Pep19-2.5</text>
<text x="436.19" y="1213" font-size="25.1" >Pep19-4LF</text>
<text x="436.19" y="1262" font-size="25.1" >FSL-1:Pep</text>
<text x="585.39" y="1189" font-size="27.5" >-</text>
<text x="634.48" y="1187" font-size="23.3" >+</text>
<text x="687.39" y="1189" font-size="27.5" >-</text>
<text x="735.88" y="1187" font-size="23.3" >+</text>
<text x="788.69" y="1189" font-size="27.5" >-</text>
<text x="585.39" y="1214" font-size="27.5" >-</text>
<text x="636.69" y="1214" font-size="27.5" >-</text>
<text x="685.18" y="1212" font-size="23.3" >+</text>
<text x="738.09" y="1214" font-size="27.5" >-</text>
<text x="786.48" y="1212" font-size="23.3" >+</text>
<line x1="630.1" y1="1227.3" x2="703.5" y2="1227.3" stroke="#000" stroke-width="2.5" stroke-linecap="round"/>
<line x1="734.8" y1="1227.3" x2="808.5" y2="1227.3" stroke="#000" stroke-width="2.5" stroke-linecap="round"/>
<text x="642.15" y="1262" font-size="24.8" >1:10</text>
<text x="735.27" y="1262" font-size="24.8" >1:100</text>
<text x="495.44" y="1149.15" font-size="25" transform="rotate(-90 495.44 1149.15)" >mRNA expression (%)</text>
<line x1="163.8" y1="1452" x2="416.7" y2="1452" stroke="#000" stroke-width="2.3" stroke-dasharray="2.4 2.99"/>
<line x1="187.8" y1="1559.1" x2="187.8" y2="1564.8" stroke="#000" stroke-width="2.5" />
<line x1="178.45" y1="1559.1" x2="197.15" y2="1559.1" stroke="#000" stroke-width="2.5" />
<line x1="238.2" y1="1509.1" x2="238.2" y2="1524.1" stroke="#000" stroke-width="2.5" />
<line x1="228.85" y1="1509.1" x2="247.55" y2="1509.1" stroke="#000" stroke-width="2.5" />
<line x1="288.8" y1="1451.1" x2="288.8" y2="1495.1" stroke="#000" stroke-width="2.5" />
<line x1="279.45" y1="1451.1" x2="298.15" y2="1451.1" stroke="#000" stroke-width="2.5" />
<line x1="339.2" y1="1551.5" x2="339.2" y2="1560.1" stroke="#000" stroke-width="2.5" />
<line x1="329.85" y1="1551.5" x2="348.55" y2="1551.5" stroke="#000" stroke-width="2.5" />
<line x1="389.8" y1="1550.5" x2="389.8" y2="1555.8" stroke="#000" stroke-width="2.5" />
<line x1="380.45" y1="1550.5" x2="399.15" y2="1550.5" stroke="#000" stroke-width="2.5" />
<rect x="171.13" y="1564.8" width="33.35" height="13.7" fill="#ffffff" stroke="#000" stroke-width="2.35"/>
<rect x="221.53" y="1524.1" width="33.35" height="54.4" fill="#0000fe" stroke="#000" stroke-width="2.35"/>
<rect x="272.12" y="1495.1" width="33.35" height="83.4" fill="#1efa14" stroke="#000" stroke-width="2.35"/>
<rect x="322.52" y="1560.1" width="33.35" height="18.4" fill="#0000fe" stroke="#000" stroke-width="2.35"/>
<rect x="373.12" y="1555.8" width="33.35" height="22.7" fill="#1efa14" stroke="#000" stroke-width="2.35"/>
<line x1="162.3" y1="1324.2" x2="162.3" y2="1579.8" stroke="#000" stroke-width="2.9" />
<line x1="155" y1="1325.5" x2="162.3" y2="1325.5" stroke="#000" stroke-width="2.3" />
<text x="109.86" y="1334.3" font-size="25.5" >200</text>
<line x1="155" y1="1388.75" x2="162.3" y2="1388.75" stroke="#000" stroke-width="2.3" />
<text x="109.86" y="1397.55" font-size="25.5" >150</text>
<line x1="155" y1="1452" x2="162.3" y2="1452" stroke="#000" stroke-width="2.3" />
<text x="109.86" y="1460.8" font-size="25.5" >100</text>
<line x1="155" y1="1515.25" x2="162.3" y2="1515.25" stroke="#000" stroke-width="2.3" />
<text x="124.02" y="1524.05" font-size="25.5" >50</text>
<text x="138.17" y="1587.3" font-size="25.5" >0</text>
<line x1="158.3" y1="1357.12" x2="162.3" y2="1357.12" stroke="#000" stroke-width="2.3" />
<line x1="158.3" y1="1420.38" x2="162.3" y2="1420.38" stroke="#000" stroke-width="2.3" />
<line x1="158.3" y1="1483.62" x2="162.3" y2="1483.62" stroke="#000" stroke-width="2.3" />
<line x1="158.3" y1="1546.88" x2="162.3" y2="1546.88" stroke="#000" stroke-width="2.3" />
<line x1="155" y1="1578.5" x2="415.7" y2="1578.5" stroke="#000" stroke-width="2.6" />
<line x1="187.8" y1="1578.5" x2="187.8" y2="1586.5" stroke="#000" stroke-width="2.4" />
<line x1="238.2" y1="1578.5" x2="238.2" y2="1586.5" stroke="#000" stroke-width="2.4" />
<line x1="288.8" y1="1578.5" x2="288.8" y2="1586.5" stroke="#000" stroke-width="2.4" />
<line x1="339.2" y1="1578.5" x2="339.2" y2="1586.5" stroke="#000" stroke-width="2.4" />
<line x1="389.8" y1="1578.5" x2="389.8" y2="1586.5" stroke="#000" stroke-width="2.4" />
<text x="331.49" y="1345" font-size="30.3" font-style="italic" >MCP1</text>
<text x="234.38" y="1502" font-size="19.6" font-weight="bold" style="stroke:none" letter-spacing="0.75">*</text>
<text x="331.18" y="1547.4" font-size="19.6" font-weight="bold" style="stroke:none" letter-spacing="0.75">**</text>
<text x="381.78" y="1545.7" font-size="19.6" font-weight="bold" style="stroke:none" letter-spacing="0.75">**</text>
<text x="34.29" y="1612" font-size="25.1" >Pep19-2.5</text>
<text x="34.29" y="1639" font-size="25.1" >Pep19-4LF</text>
<text x="34.29" y="1688" font-size="25.1" >FSL-1:Pep</text>
<text x="183.19" y="1613" font-size="27.5" >-</text>
<text x="231.38" y="1611" font-size="23.3" >+</text>
<text x="284.19" y="1613" font-size="27.5" >-</text>
<text x="332.38" y="1611" font-size="23.3" >+</text>
<text x="385.19" y="1613" font-size="27.5" >-</text>
<text x="183.19" y="1640" font-size="27.5" >-</text>
<text x="233.59" y="1640" font-size="27.5" >-</text>
<text x="281.98" y="1638" font-size="23.3" >+</text>
<text x="334.59" y="1640" font-size="27.5" >-</text>
<text x="382.98" y="1638" font-size="23.3" >+</text>
<line x1="226.8" y1="1652.6" x2="300.2" y2="1652.6" stroke="#000" stroke-width="2.5" stroke-linecap="round"/>
<line x1="330.8" y1="1652.6" x2="404.9" y2="1652.6" stroke="#000" stroke-width="2.5" stroke-linecap="round"/>
<text x="238.75" y="1688" font-size="24.8" >1:10</text>
<text x="335.27" y="1688" font-size="24.8" >1:100</text>
<text x="93.24" y="1572" font-size="25" transform="rotate(-90 93.24 1572)" >mRNA expression (%)</text>
<line x1="566.9" y1="1452" x2="820" y2="1452" stroke="#000" stroke-width="2.3" stroke-dasharray="2.4 2.99"/>
<line x1="590" y1="1560.1" x2="590" y2="1570.1" stroke="#000" stroke-width="2.5" />
<line x1="580.65" y1="1560.1" x2="599.35" y2="1560.1" stroke="#000" stroke-width="2.5" />
<line x1="641.3" y1="1561.1" x2="641.3" y2="1569.8" stroke="#000" stroke-width="2.5" />
<line x1="631.95" y1="1561.1" x2="650.65" y2="1561.1" stroke="#000" stroke-width="2.5" />
<line x1="692" y1="1559.8" x2="692" y2="1566.5" stroke="#000" stroke-width="2.5" />
<line x1="682.65" y1="1559.8" x2="701.35" y2="1559.8" stroke="#000" stroke-width="2.5" />
<line x1="742.7" y1="1547.8" x2="742.7" y2="1565.8" stroke="#000" stroke-width="2.5" />
<line x1="733.35" y1="1547.8" x2="752.05" y2="1547.8" stroke="#000" stroke-width="2.5" />
<line x1="793.3" y1="1543.1" x2="793.3" y2="1563.5" stroke="#000" stroke-width="2.5" />
<line x1="783.95" y1="1543.1" x2="802.65" y2="1543.1" stroke="#000" stroke-width="2.5" />
<rect x="573.32" y="1570.1" width="33.35" height="8.4" fill="#ffffff" stroke="#000" stroke-width="2.35"/>
<rect x="624.62" y="1569.8" width="33.35" height="8.7" fill="#0000fe" stroke="#000" stroke-width="2.35"/>
<rect x="675.32" y="1566.5" width="33.35" height="12" fill="#1efa14" stroke="#000" stroke-width="2.35"/>
<rect x="726.02" y="1565.8" width="33.35" height="12.7" fill="#0000fe" stroke="#000" stroke-width="2.35"/>
<rect x="776.62" y="1563.5" width="33.35" height="15" fill="#1efa14" stroke="#000" stroke-width="2.35"/>
<line x1="565.4" y1="1324.2" x2="565.4" y2="1579.8" stroke="#000" stroke-width="2.9" />
<line x1="558.1" y1="1325.5" x2="565.4" y2="1325.5" stroke="#000" stroke-width="2.3" />
<text x="512.96" y="1334.3" font-size="25.5" >200</text>
<line x1="558.1" y1="1388.75" x2="565.4" y2="1388.75" stroke="#000" stroke-width="2.3" />
<text x="512.96" y="1397.55" font-size="25.5" >150</text>
<line x1="558.1" y1="1452" x2="565.4" y2="1452" stroke="#000" stroke-width="2.3" />
<text x="512.96" y="1460.8" font-size="25.5" >100</text>
<line x1="558.1" y1="1515.25" x2="565.4" y2="1515.25" stroke="#000" stroke-width="2.3" />
<text x="527.12" y="1524.05" font-size="25.5" >50</text>
<text x="541.27" y="1587.3" font-size="25.5" >0</text>
<line x1="561.4" y1="1357.12" x2="565.4" y2="1357.12" stroke="#000" stroke-width="2.3" />
<line x1="561.4" y1="1420.38" x2="565.4" y2="1420.38" stroke="#000" stroke-width="2.3" />
<line x1="561.4" y1="1483.62" x2="565.4" y2="1483.62" stroke="#000" stroke-width="2.3" />
<line x1="561.4" y1="1546.88" x2="565.4" y2="1546.88" stroke="#000" stroke-width="2.3" />
<line x1="558.1" y1="1578.5" x2="819" y2="1578.5" stroke="#000" stroke-width="2.6" />
<line x1="590" y1="1578.5" x2="590" y2="1586.5" stroke="#000" stroke-width="2.4" />
<line x1="641.3" y1="1578.5" x2="641.3" y2="1586.5" stroke="#000" stroke-width="2.4" />
<line x1="692" y1="1578.5" x2="692" y2="1586.5" stroke="#000" stroke-width="2.4" />
<line x1="742.7" y1="1578.5" x2="742.7" y2="1586.5" stroke="#000" stroke-width="2.4" />
<line x1="793.3" y1="1578.5" x2="793.3" y2="1586.5" stroke="#000" stroke-width="2.4" />
<text x="737.7" y="1345" font-size="30.3" font-style="italic" >hBD2</text>
<text x="633.28" y="1557.4" font-size="19.6" font-weight="bold" style="stroke:none" letter-spacing="0.75">**</text>
<text x="683.98" y="1555.7" font-size="19.6" font-weight="bold" style="stroke:none" letter-spacing="0.75">**</text>
<text x="738.88" y="1543.4" font-size="19.6" font-weight="bold" style="stroke:none" letter-spacing="0.75">*</text>
<text x="789.48" y="1537" font-size="19.6" font-weight="bold" style="stroke:none" letter-spacing="0.75">*</text>
<text x="436.19" y="1612" font-size="25.1" >Pep19-2.5</text>
<text x="436.19" y="1639" font-size="25.1" >Pep19-4LF</text>
<text x="436.19" y="1688" font-size="25.1" >FSL-1:Pep</text>
<text x="585.39" y="1613" font-size="27.5" >-</text>
<text x="634.48" y="1611" font-size="23.3" >+</text>
<text x="687.39" y="1613" font-size="27.5" >-</text>
<text x="735.88" y="1611" font-size="23.3" >+</text>
<text x="788.69" y="1613" font-size="27.5" >-</text>
<text x="585.39" y="1640" font-size="27.5" >-</text>
<text x="636.69" y="1640" font-size="27.5" >-</text>
<text x="685.18" y="1638" font-size="23.3" >+</text>
<text x="738.09" y="1640" font-size="27.5" >-</text>
<text x="786.48" y="1638" font-size="23.3" >+</text>
<line x1="630.1" y1="1652.6" x2="703.5" y2="1652.6" stroke="#000" stroke-width="2.5" stroke-linecap="round"/>
<line x1="734.8" y1="1652.6" x2="808.5" y2="1652.6" stroke="#000" stroke-width="2.5" stroke-linecap="round"/>
<text x="642.15" y="1688" font-size="24.8" >1:10</text>
<text x="735.27" y="1688" font-size="24.8" >1:100</text>
<text x="495.44" y="1572" font-size="25" transform="rotate(-90 495.44 1572)" >mRNA expression (%)</text>
<text x="864.54" y="889.49" font-size="41" font-weight="bold" fill="#1a1a1a" style="stroke:none">F</text>
<text x="883.08" y="924" font-size="29" >FSL-1</text>
<text x="883.04" y="960" font-size="29.5" >Pep19-2.5</text>
<text x="883.04" y="996" font-size="29.5" >Pep19-4LF</text>
<text x="1093.91" y="925" font-size="32.16" >-</text>
<text x="1172.91" y="925" font-size="32.16" >-</text>
<text x="1262.31" y="925" font-size="32.16" >-</text>
<text x="1342.03" y="923" font-size="27.25" >+</text>
<text x="1421.03" y="923" font-size="27.25" >+</text>
<text x="1510.33" y="923" font-size="27.25" >+</text>
<text x="1093.91" y="960" font-size="32.16" >-</text>
<text x="1170.33" y="959" font-size="27.25" >+</text>
<text x="1262.31" y="960" font-size="32.16" >-</text>
<text x="1344.61" y="960" font-size="32.16" >-</text>
<text x="1421.03" y="959" font-size="27.25" >+</text>
<text x="1512.91" y="960" font-size="32.16" >-</text>
<text x="1093.91" y="996" font-size="32.16" >-</text>
<text x="1172.91" y="996" font-size="32.16" >-</text>
<text x="1259.73" y="994" font-size="27.25" >+</text>
<text x="1344.61" y="996" font-size="32.16" >-</text>
<text x="1423.61" y="996" font-size="32.16" >-</text>
<text x="1510.33" y="994" font-size="27.25" >+</text>
<defs><filter id="bl3" x="-30%" y="-150%" width="160%" height="400%"><feGaussianBlur stdDeviation="3.6"/></filter><filter id="bl2" x="-30%" y="-150%" width="160%" height="400%"><feGaussianBlur stdDeviation="2.6"/></filter><linearGradient id="bg0" x1="0" y1="0" x2="1" y2="1"><stop offset="0" stop-color="#c9c9c9"/><stop offset="0.5" stop-color="#cdcdcd"/><stop offset="1" stop-color="#d2d2d2"/></linearGradient><linearGradient id="bg1" x1="0" y1="0" x2="0" y2="1"><stop offset="0" stop-color="#dcdcdc"/><stop offset="0.6" stop-color="#e4e4e4"/><stop offset="1" stop-color="#ededed"/></linearGradient><linearGradient id="bg2" x1="0" y1="0" x2="0" y2="1"><stop offset="0" stop-color="#d3d3d3"/><stop offset="0.75" stop-color="#d8d8d8"/><stop offset="1" stop-color="#e2e2e2"/></linearGradient><linearGradient id="bg3" x1="0" y1="0" x2="0" y2="1"><stop offset="0" stop-color="#d6d6d6"/><stop offset="0.6" stop-color="#e0e0e0"/><stop offset="1" stop-color="#eaeaea"/></linearGradient><clipPath id="bc0"><rect x="1062.8" y="1015.3" width="507.60000000000014" height="54.600000000000136"/></clipPath><clipPath id="bc1"><rect x="1062.8" y="1089.4" width="507.60000000000014" height="54.399999999999864"/></clipPath><clipPath id="bc2"><rect x="1062.8" y="1163.4" width="507.60000000000014" height="54.09999999999991"/></clipPath><clipPath id="bc3"><rect x="1062.8" y="1236.7" width="507.60000000000014" height="54.5"/></clipPath></defs>
<g clip-path="url(#bc0)">
<rect x="1062.8" y="1015.3" width="507.60000000000014" height="54.600000000000136" fill="url(#bg0)"/>
<g filter="url(#bl3)">
<ellipse cx="1098.5" cy="1043" rx="28.5" ry="7.5" fill="#7c7c7c" opacity="0.9"/>
<ellipse cx="1158" cy="1045.5" rx="15" ry="5.5" fill="#9a9a9a" opacity="0.8"/>
<ellipse cx="1178.5" cy="1047" rx="13.5" ry="3.5" fill="#a8a8a8" opacity="0.7"/>
<ellipse cx="1199" cy="1048.7" rx="14" ry="6" fill="#989898" opacity="0.8"/>
<ellipse cx="1263.5" cy="1047" rx="32.5" ry="7" fill="#858585" opacity="0.85"/>
<ellipse cx="1251" cy="1046.5" rx="11" ry="5" fill="#707070" opacity="0.5"/>
<ellipse cx="1284" cy="1047.5" rx="10" ry="5" fill="#707070" opacity="0.5"/>
<ellipse cx="1348.5" cy="1046.3" rx="32.5" ry="7.5" fill="#4e4e4e" opacity="0.95"/>
<ellipse cx="1358" cy="1047" rx="20" ry="6" fill="#2c2c2c" opacity="0.75"/>
<ellipse cx="1428" cy="1042.5" rx="34" ry="7" fill="#565656" opacity="0.9" transform="rotate(-3 1428 1042.5)"/>
<ellipse cx="1494" cy="1039" rx="18" ry="4.5" fill="#a0a0a0" opacity="0.8" transform="rotate(-2 1494 1039)"/>
<ellipse cx="1526.5" cy="1034.5" rx="26.5" ry="3.5" fill="#acacac" opacity="0.75" transform="rotate(-8 1526.5 1034.5)"/>
</g></g>
<rect x="1063.95" y="1016.45" width="505.3" height="52.3" fill="none" stroke="#111" stroke-width="2.3"/>
<g clip-path="url(#bc1)">
<rect x="1062.8" y="1089.4" width="507.60000000000014" height="54.399999999999864" fill="url(#bg1)"/>
<g filter="url(#bl3)">
<rect x="1062" y="1098" width="64" height="17" rx="8.5" fill="#636363" opacity="1" transform="rotate(6 1094 1106.5)"/>
<rect x="1140" y="1105.75" width="73" height="18.5" rx="9.25" fill="#666666" opacity="1" transform="rotate(4 1176.5 1115)"/>
<rect x="1229" y="1108" width="70" height="18" rx="9" fill="#666666" opacity="1" transform="rotate(1 1264 1117)"/>
<rect x="1312" y="1110" width="72" height="20" rx="10" fill="#646464" opacity="1"/>
<rect x="1395" y="1112.95" width="70" height="13.5" rx="6.75" fill="#6a6a6a" opacity="1"/>
<rect x="1481" y="1108.75" width="79" height="14.5" rx="7.25" fill="#686868" opacity="1" transform="rotate(-6 1520.5 1116)"/>
</g></g>
<rect x="1063.95" y="1090.55" width="505.3" height="52.1" fill="none" stroke="#111" stroke-width="2.3"/>
<g clip-path="url(#bc2)">
<rect x="1062.8" y="1163.4" width="507.60000000000014" height="54.09999999999991" fill="url(#bg2)"/>
<g filter="url(#bl3)">
<ellipse cx="1110.5" cy="1190.5" rx="39.5" ry="5" fill="#a4a4a4" opacity="0.85"/>
<ellipse cx="1133.5" cy="1190.5" rx="17.5" ry="5.5" fill="#808080" opacity="0.75"/>
<ellipse cx="1185.5" cy="1190.5" rx="16.5" ry="7.5" fill="#444444" opacity="0.95"/>
<ellipse cx="1224.5" cy="1189.7" rx="12.5" ry="6.5" fill="#606060" opacity="0.9"/>
<ellipse cx="1284" cy="1188.8" rx="36" ry="5" fill="#a0a0a0" opacity="0.85"/>
<ellipse cx="1361.5" cy="1188" rx="32.5" ry="7.25" fill="#4c4c4c" opacity="0.95"/>
<ellipse cx="1440.5" cy="1189.7" rx="31.5" ry="5.75" fill="#8a8a8a" opacity="0.9"/>
<ellipse cx="1523.5" cy="1193.8" rx="35.5" ry="6.75" fill="#666666" opacity="0.9" transform="rotate(2 1523.5 1193.8)"/>
<ellipse cx="1508.5" cy="1193.5" rx="16.5" ry="6" fill="#484848" opacity="0.7"/>
</g></g>
<rect x="1063.95" y="1164.55" width="505.3" height="51.8" fill="none" stroke="#111" stroke-width="2.3"/>
<g clip-path="url(#bc3)">
<rect x="1062.8" y="1236.7" width="507.60000000000014" height="54.5" fill="url(#bg3)"/>
<g filter="url(#bl3)">
<rect x="1064" y="1248.75" width="104" height="17.5" rx="8.75" fill="#6a6a6a" opacity="1" transform="rotate(1.5 1116 1257.5)"/>
<rect x="1120" y="1249.5" width="47" height="19" rx="9.5" fill="#6a6a6a" opacity="1"/>
<rect x="1169" y="1252.75" width="87" height="17.5" rx="8.75" fill="#6a6a6a" opacity="1" transform="rotate(-1.5 1212.5 1261.5)"/>
<rect x="1252" y="1248" width="38" height="20" rx="10" fill="#6a6a6a" opacity="1" transform="rotate(5 1271 1258)"/>
<rect x="1280" y="1252" width="54" height="16" rx="8" fill="#6a6a6a" opacity="1" transform="rotate(-3 1307 1260)"/>
<rect x="1331" y="1248.75" width="84" height="21.5" rx="10.75" fill="#686868" opacity="1" transform="rotate(2 1373 1259.5)"/>
<rect x="1410" y="1256" width="84" height="18" rx="9" fill="#6a6a6a" opacity="1" transform="rotate(6 1452 1265)"/>
<rect x="1492" y="1265.5" width="74" height="17" rx="8.5" fill="#696969" opacity="1" transform="rotate(6 1529 1274)"/>
</g></g>
<rect x="1063.95" y="1237.85" width="505.3" height="52.2" fill="none" stroke="#111" stroke-width="2.3"/>
<text x="977.26" y="1051" font-size="29.6" >p-p38</text>
<text x="1003.76" y="1129" font-size="29.5" >p38</text>
<text x="883.36" y="1201" font-size="29.9" >p-NF-κB p65</text>
<text x="964.53" y="1272" font-size="29.5" >β-actin</text>
<text x="864.26" y="1343.7" font-size="41" font-weight="bold" fill="#1a1a1a" style="stroke:none">G</text>
<line x1="1131.9" y1="1530.3" x2="1131.9" y2="1561.3" stroke="#000" stroke-width="2.5" />
<line x1="1122.55" y1="1530.3" x2="1141.25" y2="1530.3" stroke="#000" stroke-width="2.5" />
<line x1="1182" y1="1509" x2="1182" y2="1550.7" stroke="#000" stroke-width="2.5" />
<line x1="1172.65" y1="1509" x2="1191.35" y2="1509" stroke="#000" stroke-width="2.5" />
<line x1="1232" y1="1492.3" x2="1232" y2="1539" stroke="#000" stroke-width="2.5" />
<line x1="1222.65" y1="1492.3" x2="1241.35" y2="1492.3" stroke="#000" stroke-width="2.5" />
<line x1="1282.5" y1="1416.7" x2="1282.5" y2="1480.7" stroke="#000" stroke-width="2.5" />
<line x1="1273.15" y1="1416.7" x2="1291.85" y2="1416.7" stroke="#000" stroke-width="2.5" />
<line x1="1333" y1="1507" x2="1333" y2="1548.3" stroke="#000" stroke-width="2.5" />
<line x1="1323.65" y1="1507" x2="1342.35" y2="1507" stroke="#000" stroke-width="2.5" />
<line x1="1383.8" y1="1517" x2="1383.8" y2="1551.7" stroke="#000" stroke-width="2.5" />
<line x1="1374.45" y1="1517" x2="1393.15" y2="1517" stroke="#000" stroke-width="2.5" />
<rect x="1115.78" y="1561.3" width="32.25" height="37.4" fill="#ffffff" stroke="#000" stroke-width="2.35"/>
<rect x="1165.88" y="1550.7" width="32.25" height="48" fill="#0000fe" stroke="#000" stroke-width="2.35"/>
<rect x="1215.88" y="1539" width="32.25" height="59.7" fill="#1efa14" stroke="#000" stroke-width="2.35"/>
<rect x="1266.38" y="1480.7" width="32.25" height="118" fill="#ffff16" stroke="#000" stroke-width="2.35"/>
<rect x="1316.88" y="1548.3" width="32.25" height="50.4" fill="#0000fe" stroke="#000" stroke-width="2.35"/>
<rect x="1367.67" y="1551.7" width="32.25" height="47" fill="#1efa14" stroke="#000" stroke-width="2.35"/>
<line x1="1107.2" y1="1343.4" x2="1107.2" y2="1600" stroke="#000" stroke-width="2.9" />
<line x1="1099.9" y1="1344.7" x2="1107.2" y2="1344.7" stroke="#000" stroke-width="2.3" />
<text x="1082.81" y="1353.5" font-size="25.5" >4</text>
<line x1="1099.9" y1="1408.2" x2="1107.2" y2="1408.2" stroke="#000" stroke-width="2.3" />
<text x="1083.19" y="1417" font-size="25.5" >3</text>
<line x1="1099.9" y1="1471.7" x2="1107.2" y2="1471.7" stroke="#000" stroke-width="2.3" />
<text x="1083.32" y="1480.5" font-size="25.5" >2</text>
<line x1="1099.9" y1="1535.2" x2="1107.2" y2="1535.2" stroke="#000" stroke-width="2.3" />
<text x="1083.32" y="1544" font-size="25.5" >1</text>
<text x="1083.07" y="1607.5" font-size="25.5" >0</text>
<line x1="1103.2" y1="1376.45" x2="1107.2" y2="1376.45" stroke="#000" stroke-width="2.3" />
<line x1="1103.2" y1="1439.95" x2="1107.2" y2="1439.95" stroke="#000" stroke-width="2.3" />
<line x1="1103.2" y1="1503.45" x2="1107.2" y2="1503.45" stroke="#000" stroke-width="2.3" />
<line x1="1103.2" y1="1566.95" x2="1107.2" y2="1566.95" stroke="#000" stroke-width="2.3" />
<line x1="1099.9" y1="1598.7" x2="1410" y2="1598.7" stroke="#444" stroke-width="1.4" />
<line x1="1131.9" y1="1598.7" x2="1131.9" y2="1605.3" stroke="#000" stroke-width="2.4" />
<line x1="1182" y1="1598.7" x2="1182" y2="1605.3" stroke="#000" stroke-width="2.4" />
<line x1="1232" y1="1598.7" x2="1232" y2="1605.3" stroke="#000" stroke-width="2.4" />
<line x1="1282.5" y1="1598.7" x2="1282.5" y2="1605.3" stroke="#000" stroke-width="2.4" />
<line x1="1333" y1="1598.7" x2="1333" y2="1605.3" stroke="#000" stroke-width="2.4" />
<line x1="1383.8" y1="1598.7" x2="1383.8" y2="1605.3" stroke="#000" stroke-width="2.4" />
<text x="979.02" y="1632" font-size="24.8" >Pep19-2.5</text>
<text x="979.02" y="1664" font-size="24.8" >Pep19-4LF</text>
<text x="979.02" y="1715" font-size="24.8" >FSL-1:Pep</text>
<text x="1127.09" y="1632" font-size="27.5" >-</text>
<text x="1175.48" y="1631" font-size="23.3" >+</text>
<text x="1227.09" y="1632" font-size="27.5" >-</text>
<text x="1277.09" y="1632" font-size="27.5" >-</text>
<text x="1326.48" y="1631" font-size="23.3" >+</text>
<text x="1378.69" y="1632" font-size="27.5" >-</text>
<text x="1127.09" y="1664" font-size="27.5" >-</text>
<text x="1177.69" y="1664" font-size="27.5" >-</text>
<text x="1224.88" y="1662" font-size="23.3" >+</text>
<text x="1277.09" y="1664" font-size="27.5" >-</text>
<text x="1328.69" y="1664" font-size="27.5" >-</text>
<text x="1376.48" y="1662" font-size="23.3" >+</text>
<line x1="1273.1" y1="1677.3" x2="1404.9" y2="1677.3" stroke="#000" stroke-width="2.5" stroke-linecap="round"/>
<text x="1301.87" y="1715.7" font-size="24.8" >1:100</text>
<text x="1020.76" y="1559.13" font-size="24.7" transform="rotate(-90 1020.76 1559.13)" >Relative densitiy</text>
<text x="1050.84" y="1532.56" font-size="25" transform="rotate(-90 1050.84 1532.56)" >(p-p38/p38)</text>
<line x1="1138.5" y1="1965" x2="1138.5" y2="1983.6" stroke="#000" stroke-width="2.5" />
<line x1="1129.15" y1="1965" x2="1147.85" y2="1965" stroke="#000" stroke-width="2.5" />
<line x1="1185.7" y1="1970.6" x2="1185.7" y2="1986.3" stroke="#000" stroke-width="2.5" />
<line x1="1176.35" y1="1970.6" x2="1195.05" y2="1970.6" stroke="#000" stroke-width="2.5" />
<line x1="1233" y1="1976.3" x2="1233" y2="1984.3" stroke="#000" stroke-width="2.5" />
<line x1="1223.65" y1="1976.3" x2="1242.35" y2="1976.3" stroke="#000" stroke-width="2.5" />
<line x1="1281.2" y1="1866.6" x2="1281.2" y2="1912.3" stroke="#000" stroke-width="2.5" />
<line x1="1271.85" y1="1866.6" x2="1290.55" y2="1866.6" stroke="#000" stroke-width="2.5" />
<line x1="1329.2" y1="1977.6" x2="1329.2" y2="1990.3" stroke="#000" stroke-width="2.5" />
<line x1="1319.85" y1="1977.6" x2="1338.55" y2="1977.6" stroke="#000" stroke-width="2.5" />
<line x1="1377" y1="1952.6" x2="1377" y2="1977.6" stroke="#000" stroke-width="2.5" />
<line x1="1367.65" y1="1952.6" x2="1386.35" y2="1952.6" stroke="#000" stroke-width="2.5" />
<rect x="1122.27" y="1983.6" width="32.45" height="31.9" fill="#ffffff" stroke="#000" stroke-width="2.35"/>
<rect x="1169.47" y="1986.3" width="32.45" height="29.2" fill="#0000fe" stroke="#000" stroke-width="2.35"/>
<rect x="1216.77" y="1984.3" width="32.45" height="31.2" fill="#1efa14" stroke="#000" stroke-width="2.35"/>
<rect x="1264.97" y="1912.3" width="32.45" height="103.2" fill="#ffff16" stroke="#000" stroke-width="2.35"/>
<rect x="1312.97" y="1990.3" width="32.45" height="25.2" fill="#0000fe" stroke="#000" stroke-width="2.35"/>
<rect x="1360.77" y="1977.6" width="32.45" height="37.9" fill="#1efa14" stroke="#000" stroke-width="2.35"/>
<line x1="1107.2" y1="1760.6" x2="1107.2" y2="2016.8" stroke="#000" stroke-width="2.9" />
<line x1="1099.9" y1="1761.9" x2="1107.2" y2="1761.9" stroke="#000" stroke-width="2.3" />
<text x="1061.78" y="1770.7" font-size="25.5" >2.0</text>
<line x1="1099.9" y1="1825.3" x2="1107.2" y2="1825.3" stroke="#000" stroke-width="2.3" />
<text x="1061.78" y="1834.1" font-size="25.5" >1.5</text>
<line x1="1099.9" y1="1888.7" x2="1107.2" y2="1888.7" stroke="#000" stroke-width="2.3" />
<text x="1061.78" y="1897.5" font-size="25.5" >1.0</text>
<line x1="1099.9" y1="1952.1" x2="1107.2" y2="1952.1" stroke="#000" stroke-width="2.3" />
<text x="1061.78" y="1960.9" font-size="25.5" >0.5</text>
<text x="1061.78" y="2024.3" font-size="25.5" >0.0</text>
<line x1="1099.9" y1="2015.5" x2="1410" y2="2015.5" stroke="#444" stroke-width="1.4" />
<line x1="1138.5" y1="2015.5" x2="1138.5" y2="2022.1" stroke="#000" stroke-width="2.4" />
<line x1="1185.7" y1="2015.5" x2="1185.7" y2="2022.1" stroke="#000" stroke-width="2.4" />
<line x1="1233" y1="2015.5" x2="1233" y2="2022.1" stroke="#000" stroke-width="2.4" />
<line x1="1281.2" y1="2015.5" x2="1281.2" y2="2022.1" stroke="#000" stroke-width="2.4" />
<line x1="1329.2" y1="2015.5" x2="1329.2" y2="2022.1" stroke="#000" stroke-width="2.4" />
<line x1="1377" y1="2015.5" x2="1377" y2="2022.1" stroke="#000" stroke-width="2.4" />
<path d="M1280.7 1846.7V1833.7H1328.7V1846.7" fill="none" stroke="#000" stroke-width="2.4"/>
<text x="1302.88" y="1833.2" font-size="19.6" font-weight="bold" style="stroke:none" letter-spacing="0.75">*</text>
<text x="979.02" y="2048" font-size="24.8" >Pep19-2.5</text>
<text x="979.02" y="2080" font-size="24.8" >Pep19-4LF</text>
<text x="979.02" y="2131" font-size="24.8" >FSL-1:Pep</text>
<text x="1127.09" y="2049" font-size="27.5" >-</text>
<text x="1175.48" y="2047" font-size="23.3" >+</text>
<text x="1227.09" y="2049" font-size="27.5" >-</text>
<text x="1277.09" y="2049" font-size="27.5" >-</text>
<text x="1326.48" y="2047" font-size="23.3" >+</text>
<text x="1378.69" y="2049" font-size="27.5" >-</text>
<text x="1127.09" y="2081" font-size="27.5" >-</text>
<text x="1177.69" y="2081" font-size="27.5" >-</text>
<text x="1224.88" y="2079" font-size="23.3" >+</text>
<text x="1277.09" y="2081" font-size="27.5" >-</text>
<text x="1328.69" y="2081" font-size="27.5" >-</text>
<text x="1376.48" y="2079" font-size="23.3" >+</text>
<line x1="1273.1" y1="2094.7" x2="1404.9" y2="2094.7" stroke="#000" stroke-width="2.5" stroke-linecap="round"/>
<text x="1301.87" y="2131.7" font-size="24.8" >1:100</text>
<text x="1005.66" y="1976.83" font-size="24.7" transform="rotate(-90 1005.66 1976.83)" >Relative densitiy</text>
<text x="1036.54" y="2009.6" font-size="25.4" transform="rotate(-90 1036.54 2009.6)" >(p-NF-κB p65/β-actin)</text>
<text x="224.84" y="1749.89" font-size="41" font-weight="bold" fill="#1a1a1a" style="stroke:none">H</text>
<line x1="372.7" y1="1915" x2="725.3" y2="1915" stroke="#000" stroke-width="2.3" stroke-dasharray="2.4 2.99"/>
<line x1="403.2" y1="2006.1" x2="403.2" y2="2009.8" stroke="#000" stroke-width="2.5" />
<line x1="393.85" y1="2006.1" x2="412.55" y2="2006.1" stroke="#000" stroke-width="2.5" />
<line x1="452.2" y1="1842.8" x2="452.2" y2="1880.8" stroke="#000" stroke-width="2.5" />
<line x1="442.85" y1="1842.8" x2="461.55" y2="1842.8" stroke="#000" stroke-width="2.5" />
<line x1="499.8" y1="1850.1" x2="499.8" y2="1873.8" stroke="#000" stroke-width="2.5" />
<line x1="490.45" y1="1850.1" x2="509.15" y2="1850.1" stroke="#000" stroke-width="2.5" />
<line x1="548.3" y1="1890.1" x2="548.3" y2="1918.1" stroke="#000" stroke-width="2.5" />
<line x1="538.95" y1="1890.1" x2="557.65" y2="1890.1" stroke="#000" stroke-width="2.5" />
<line x1="596.7" y1="1810.1" x2="596.7" y2="1849.1" stroke="#000" stroke-width="2.5" />
<line x1="587.35" y1="1810.1" x2="606.05" y2="1810.1" stroke="#000" stroke-width="2.5" />
<line x1="645" y1="2000.1" x2="645" y2="2004.1" stroke="#000" stroke-width="2.5" />
<line x1="635.65" y1="2000.1" x2="654.35" y2="2000.1" stroke="#000" stroke-width="2.5" />
<line x1="693.7" y1="1891.1" x2="693.7" y2="1909.8" stroke="#000" stroke-width="2.5" />
<line x1="684.35" y1="1891.1" x2="703.05" y2="1891.1" stroke="#000" stroke-width="2.5" />
<rect x="387.18" y="2009.8" width="32.05" height="5.6" fill="#ffffff" stroke="#000" stroke-width="2.35"/>
<rect x="436.18" y="1880.8" width="32.05" height="134.6" fill="#0000fe" stroke="#000" stroke-width="2.35"/>
<rect x="483.78" y="1873.8" width="32.05" height="141.6" fill="#1efa14" stroke="#000" stroke-width="2.35"/>
<rect x="532.27" y="1918.1" width="32.05" height="97.3" fill="#0000fe" stroke="#000" stroke-width="2.35"/>
<rect x="580.67" y="1849.1" width="32.05" height="166.3" fill="#1efa14" stroke="#000" stroke-width="2.35"/>
<rect x="628.97" y="2004.1" width="32.05" height="11.3" fill="#0000fe" stroke="#000" stroke-width="2.35"/>
<rect x="677.67" y="1909.8" width="32.05" height="105.6" fill="#1efa14" stroke="#000" stroke-width="2.35"/>
<line x1="371.2" y1="1761.6" x2="371.2" y2="2016.7" stroke="#000" stroke-width="2.9" />
<line x1="363.9" y1="1762.9" x2="371.2" y2="1762.9" stroke="#000" stroke-width="2.3" />
<text x="318.76" y="1771.7" font-size="25.5" >250</text>
<line x1="363.9" y1="1813.4" x2="371.2" y2="1813.4" stroke="#000" stroke-width="2.3" />
<text x="318.76" y="1822.2" font-size="25.5" >200</text>
<line x1="363.9" y1="1863.9" x2="371.2" y2="1863.9" stroke="#000" stroke-width="2.3" />
<text x="318.76" y="1872.7" font-size="25.5" >150</text>
<line x1="363.9" y1="1914.4" x2="371.2" y2="1914.4" stroke="#000" stroke-width="2.3" />
<text x="318.76" y="1923.2" font-size="25.5" >100</text>
<line x1="363.9" y1="1964.9" x2="371.2" y2="1964.9" stroke="#000" stroke-width="2.3" />
<text x="332.91" y="1973.7" font-size="25.5" >50</text>
<text x="347.07" y="2024.2" font-size="25.5" >0</text>
<line x1="367.2" y1="1788.15" x2="371.2" y2="1788.15" stroke="#000" stroke-width="2.3" />
<line x1="367.2" y1="1838.65" x2="371.2" y2="1838.65" stroke="#000" stroke-width="2.3" />
<line x1="367.2" y1="1889.15" x2="371.2" y2="1889.15" stroke="#000" stroke-width="2.3" />
<line x1="367.2" y1="1939.65" x2="371.2" y2="1939.65" stroke="#000" stroke-width="2.3" />
<line x1="367.2" y1="1990.15" x2="371.2" y2="1990.15" stroke="#000" stroke-width="2.3" />
<line x1="363.9" y1="2015.4" x2="726.3" y2="2015.4" stroke="#000" stroke-width="2.6" />
<line x1="403.2" y1="2015.4" x2="403.2" y2="2023.4" stroke="#000" stroke-width="2.4" />
<line x1="452.2" y1="2015.4" x2="452.2" y2="2023.4" stroke="#000" stroke-width="2.4" />
<line x1="499.8" y1="2015.4" x2="499.8" y2="2023.4" stroke="#000" stroke-width="2.4" />
<line x1="548.3" y1="2015.4" x2="548.3" y2="2023.4" stroke="#000" stroke-width="2.4" />
<line x1="596.7" y1="2015.4" x2="596.7" y2="2023.4" stroke="#000" stroke-width="2.4" />
<line x1="645" y1="2015.4" x2="645" y2="2023.4" stroke="#000" stroke-width="2.4" />
<line x1="693.7" y1="2015.4" x2="693.7" y2="2023.4" stroke="#000" stroke-width="2.4" />
<text x="634.48" y="1996.6" font-size="19.6" font-weight="bold" style="stroke:none" letter-spacing="0.75">***</text>
<text x="249.32" y="2049" font-size="24.8" >Pep19-2.5</text>
<text x="249.32" y="2080" font-size="24.8" >Pep19-4LF</text>
<text x="249.02" y="2122" font-size="24.8" >FSL-1:Pep</text>
<text x="398.19" y="2049" font-size="27.5" >-</text>
<text x="444.68" y="2048" font-size="23.3" >+</text>
<text x="494.69" y="2049" font-size="27.5" >-</text>
<text x="540.88" y="2048" font-size="23.3" >+</text>
<text x="591.39" y="2049" font-size="27.5" >-</text>
<text x="638.18" y="2048" font-size="23.3" >+</text>
<text x="688.39" y="2049" font-size="27.5" >-</text>
<text x="398.19" y="2080" font-size="27.5" >-</text>
<text x="446.89" y="2080" font-size="27.5" >-</text>
<text x="492.48" y="2079" font-size="23.3" >+</text>
<text x="543.09" y="2080" font-size="27.5" >-</text>
<text x="589.18" y="2079" font-size="23.3" >+</text>
<text x="640.39" y="2080" font-size="27.5" >-</text>
<text x="686.18" y="2079" font-size="23.3" >+</text>
<line x1="440.1" y1="2094.3" x2="519.9" y2="2094.3" stroke="#222" stroke-width="1.5" stroke-linecap="round"/>
<line x1="535.8" y1="2094.3" x2="615.2" y2="2094.3" stroke="#222" stroke-width="1.5" stroke-linecap="round"/>
<line x1="631.5" y1="2094.3" x2="711.2" y2="2094.3" stroke="#222" stroke-width="1.5" stroke-linecap="round"/>
<text x="460.75" y="2125" font-size="24.8" >1:1</text>
<text x="548.75" y="2125" font-size="24.8" >1:10</text>
<text x="641.27" y="2125" font-size="24.8" >1:100</text>
<text x="287.69" y="1984.21" font-size="24.8" transform="rotate(-90 287.69 1984.21)" >IL-8 secretion (%)</text>
</svg>
</body></html>
